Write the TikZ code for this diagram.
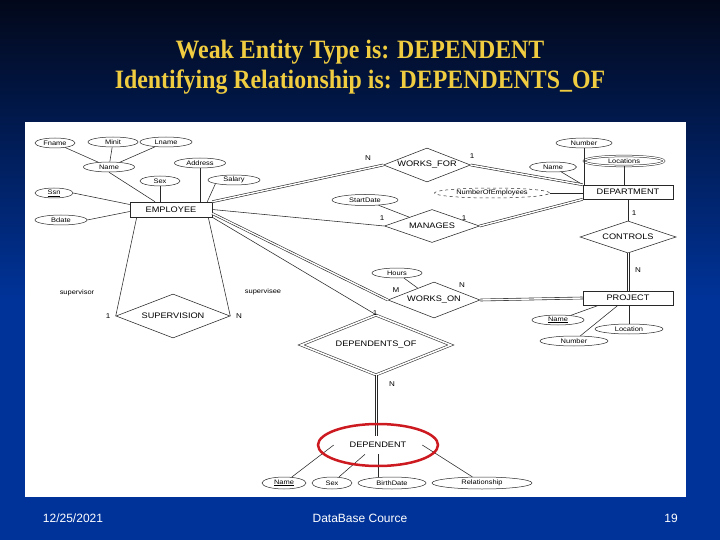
\documentclass[tikz,border=0pt]{standalone}
\usepackage{fontspec}
\setmainfont{Liberation Sans}
\newfontfamily\titlefont[FakeStretch=0.9]{Liberation Serif}
\newfontfamily\erfont[FakeStretch=1.15]{Liberation Sans}
\usetikzlibrary{shapes.geometric}

\definecolor{slideblue}{RGB}{0,51,153}
\definecolor{slidetop}{RGB}{2,8,26}
\definecolor{titlegold}{RGB}{240,204,64}
\definecolor{erline}{RGB}{40,40,40}
\definecolor{markred}{RGB}{204,26,32}

\tikzset{
  ln/.style={draw=erline, line width=0.55pt},
  dbl/.style={draw=erline, line width=0.6pt, double=white, double distance=1.4pt},
  entity/.style={draw=erline, line width=0.55pt, rectangle, minimum width=90pt, minimum height=14pt,
    inner sep=0pt, font=\erfont\fontsize{8}{9}\selectfont},
  weakentity/.style={entity, double=white, double distance=1.6pt},
  rel/.style={draw=erline, line width=0.55pt, diamond, inner sep=0pt, aspect=2.6,
    font=\erfont\fontsize{8}{9}\selectfont},
  idrel/.style={rel, double=white, double distance=1.6pt},
  attr/.style={draw=erline, line width=0.5pt, ellipse, inner sep=0pt, minimum height=10pt,
    font=\erfont\fontsize{6.5}{7}\selectfont},
  multi/.style={attr, double=white, double distance=1.2pt},
  derived/.style={attr, dashed},
  card/.style={inner sep=0pt, font=\erfont\fontsize{7}{8}\selectfont},
  role/.style={inner sep=0pt, font=\erfont\fontsize{6.5}{7}\selectfont},
  foot/.style={inner sep=0pt, text=white, font=\fontsize{12}{14}\selectfont},
}

\begin{document}
\begin{tikzpicture}[x=1pt,y=-1pt]

  % slide: 720 x 540, y runs downwards
  \useasboundingbox (0,0) rectangle (720,540);
  \shade[top color=slidetop, bottom color=slideblue] (0,0) rectangle (720,300);
  \fill[slideblue] (0,299.5) rectangle (720,540);

  %==========================
  % Title
  %==========================
  \node[text=titlegold, font=\titlefont\bfseries\fontsize{26.5}{30}\selectfont] (title1) at (360,52)
    {Weak Entity Type is: DEPENDENT};
  \node[text=titlegold, font=\titlefont\bfseries\fontsize{26.5}{30}\selectfont] (title2) at (360,82)
    {Identifying Relationship is: DEPENDENTS\_OF};

  %==========================
  % ER diagram panel
  %==========================
  \fill[white] (25,122) rectangle (686,497);

  % entities
  \node[entity, minimum width=82pt, minimum height=15pt] (emp) at (171,209.5) {EMPLOYEE};
  \node[entity] (dept) at (628,192) {DEPARTMENT};
  \node[entity] (proj) at (628,298) {PROJECT};
  \node[weakentity, minimum width=88pt, minimum height=18pt] (dep) at (378,445) {DEPENDENT};

  % relationships
  \node[rel, minimum width=87pt, minimum height=34pt] (wf) at (427,165) {WORKS\_FOR};
  \node[rel, minimum width=95pt, minimum height=33pt] (mg) at (432,226) {MANAGES};
  \node[rel, minimum width=96pt, minimum height=32pt] (ctl) at (628,237) {CONTROLS};
  \node[rel, minimum width=92pt, minimum height=36pt] (wo) at (434,300) {WORKS\_ON};
  \node[rel, minimum width=114pt, minimum height=44pt] (sup) at (173,316) {SUPERVISION};
  \node[idrel, minimum width=150pt, minimum height=60pt] (dof) at (376,345) {DEPENDENTS\_OF};

  % EMPLOYEE attributes
  \node[attr, minimum width=40pt] (fname) at (55,143) {Fname};
  \node[attr, minimum width=50pt] (minit) at (113,142) {Minit};
  \node[attr, minimum width=52pt] (lname) at (166,142) {Lname};
  \node[attr, minimum width=51pt] (ename) at (109,167) {Name};
  \node[attr, minimum width=51pt] (addr) at (200,163) {Address};
  \node[attr, minimum width=40pt] (esex) at (160,181) {Sex};
  \node[attr, minimum width=52pt] (sal) at (234,180) {Salary};
  \node[attr, minimum width=38pt] (ssn) at (54,193) {\underline{Ssn}};
  \node[attr, minimum width=52pt] (bdate) at (61,220) {Bdate};

  % DEPARTMENT attributes
  \node[attr, minimum width=56pt] (dnum) at (584,143) {Number};
  \node[multi, minimum width=80pt] (dloc) at (624,161) {Locations};
  \node[attr, minimum width=47pt] (dname) at (553,167) {Name};
  \node[derived, minimum width=115pt] (noe) at (492,193) {NumberOfEmployees};
  \node[attr, minimum width=66pt, minimum height=11pt] (sdate) at (365,200) {StartDate};
  \node[attr, minimum width=50pt] (hours) at (397,273) {Hours};

  % PROJECT attributes
  \node[attr, minimum width=52pt] (pname) at (558,320) {\underline{Name}};
  \node[attr, minimum width=68pt] (ploc) at (629,329) {Location};
  \node[attr, minimum width=68pt] (pnum) at (574,341) {Number};

  % DEPENDENT attributes
  \node[attr, minimum width=44pt, minimum height=12pt] (dpname) at (284,483) {\underline{Name}};
  \node[attr, minimum width=40pt, minimum height=12pt] (dpsex) at (332,483) {Sex};
  \node[attr, minimum width=68pt, minimum height=12pt] (dpbirth) at (392,483) {BirthDate};
  \node[attr, minimum width=100pt, minimum height=12pt] (dprel) at (482,483) {Relationship};

  % attribute links
  \draw[ln] (fname) -- (ename);
  \draw[ln] (minit) -- (ename);
  \draw[ln] (lname) -- (ename);
  \draw[ln] (ename.south) -- ([xshift=-16pt]emp.north);
  \draw[ln] (esex.south) -- (esex.south |- emp.north);
  \draw[ln] (addr.south) -- (addr.south |- emp.north);
  \draw[ln] (sal.south west) -- ([xshift=-5pt]emp.north east);
  \draw[ln] (ssn.east) -- ([yshift=5pt]emp.west);
  \draw[ln] (bdate.east) -- ([yshift=-2pt]emp.west);

  \draw[ln] (dnum.south) -- (dnum.south |- dept.north);
  \draw[ln] (dloc.south) -- (dloc.south |- dept.north);
  \draw[ln] (dname) -- (dept.north west);
  \draw[ln] (noe.east) -- (noe.east -| dept.west);
  \draw[ln] (sdate) -- (mg);
  \draw[ln] (hours) -- (wo);

  \draw[ln] (pname) -- ([xshift=16pt]proj.south west);
  \draw[ln] (ploc.north) -- (ploc.north |- proj.south);
  \draw[ln] (pnum) -- ([xshift=-10pt]proj.south);

  \draw[ln] (dpname) -- (dep.west);
  \draw[ln] (dpsex) -- ([xshift=-13pt]dep.south);
  \draw[ln] (dep.south) -- (dep.south |- dpbirth.north);
  \draw[ln] (dprel) -- (dep.east);

  % relationship links
  \draw[dbl] (emp.north east) -- (wf.west);
  \draw[dbl] (wf.east) -- (dept.north west);
  \draw[ln]  (emp.east) -- (mg.west);
  \draw[dbl] (mg.east) -- (dept.south west);
  \draw[ln]  (dept.south) -- (ctl.north);
  \draw[dbl] ([xshift=0.3pt]ctl.south) -- ([xshift=0.3pt]proj.north);
  \draw[dbl] ([yshift=-4pt]emp.east) -- (wo.west);
  \draw[dbl] (wo.east) -- (proj.west);
  \draw[ln]  (emp.south east) -- (dof.north);
  \draw[dbl] ([xshift=0.3pt]dof.south) -- ([xshift=0.3pt]dof.south |- dep.north);
  \draw[ln]  ([xshift=7pt]emp.south west) -- (sup.west);
  \draw[ln]  ([xshift=-4pt]emp.south east) -- (sup.east);

  % cardinalities and roles
  \node[card] (cwf1) at (368,158) {N};
  \node[card] (cwf2) at (472,156) {1};
  \node[card] (cmg1) at (382,218) {1};
  \node[card] (cmg2) at (464,218) {1};
  \node[card] (cct1) at (634,213) {1};
  \node[card] (cct2) at (638,270) {N};
  \node[card] (cwo1) at (396,290) {M};
  \node[card] (cwo2) at (462,285) {N};
  \node[card] (cdo1) at (375,313) {1};
  \node[card] (cdo2) at (392,384) {N};
  \node[card] (csu1) at (108,316) {1};
  \node[card] (csu2) at (239,316) {N};
  \node[role] (rsup) at (77,293) {supervisor};
  \node[role] (rsee) at (263,292) {supervisee};

  % highlight round the weak entity
  \node[draw=markred, line width=2.5pt, ellipse, minimum width=120pt, minimum height=42pt] (mark) at (dep) {};

  %==========================
  % Footer
  %==========================
  \node[foot] (fdate) at (73,518) {12/25/2021};
  \node[foot] (fcourse) at (360,518) {DataBase Cource};
  \node[foot] (fpage) at (671,518) {19};

\end{tikzpicture}
\end{document}
